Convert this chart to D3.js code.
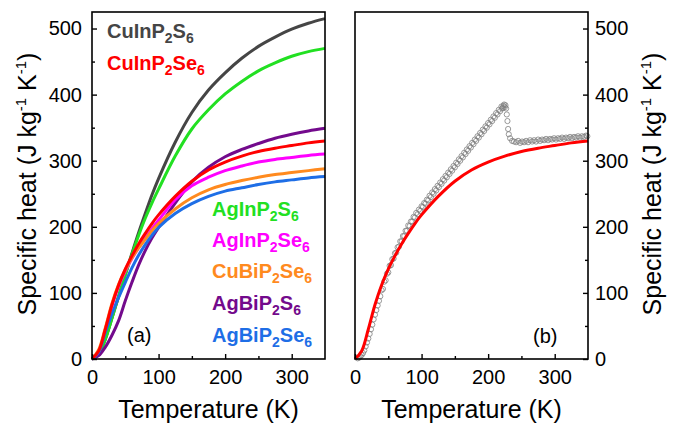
<!DOCTYPE html>
<html><head><meta charset="utf-8">
<script src="https://cdn.jsdelivr.net/npm/d3@7"></script>
<style>body{margin:0;background:#fff}svg{display:block}</style>
</head><body>
<svg id="chart" width="684" height="429"></svg>
<script>
// ---------- data ----------
const temps = [0,10,20,30,40,50,60,70,80,90,100,125,150,175,200,225,250,275,300,325,350];
const seriesNames = ["CuInP2S6","CuInP2Se6","AgInP2S6","AgInP2Se6","CuBiP2Se6","AgBiP2S6","AgBiP2Se6"];
const seriesColors = ["#454545","#ff0000","#22e022","#ff00ff","#ff8a1e","#730a8c","#1e6ee6"];
const cuInP2S6  = [0,7,30,62,95,128,160,191,220,248,273,328,373,407,433,455,473,487,499,508,515];
const cuInP2Se6 = [0,12,45,82,112,136,156,174,190,205,218,246,269,286,298,307,314,319,323,327,330];
const agInP2S6  = [0,7,30,62,95,127,158,187,213,236,257,307,348,377,401,420,436,448,458,465,470];
const agInP2Se6 = [0,11,44,80,110,133,152,168,183,197,210,241,262,275,285,292,298,302,305,308,310];
const cuBiP2Se6 = [0,14,47,84,113,135,153,168,181,194,205,227,244,256,264,270,275,279,282,285,288];
const agBiP2S6  = [0,5,18,36,58,88,116,142,164,183,199,236,268,290,306,317,326,334,340,345,349];
const agBiP2Se6 = [0,10,40,68,93,116,138,157,173,187,199,220,235,246,254,259,264,268,271,274,276];
const seriesValues = [cuInP2S6,cuInP2Se6,agInP2S6,agInP2Se6,cuBiP2Se6,agBiP2S6,agBiP2Se6];
// drawing order (back to front)
const drawOrder = [0,2,5,3,4,6,1];

// measured data, panel (b)
const measT = [4,6,8,10,12,14,16,18,20,22,24,26,28,30,32,34,36,38,
  40,42,44,46,48,50,52,54,56,58,60,62,64,66,68,70,72,74,76,78,80,82,84,86,88,90,92,94,96,98,
  100,102,104,106,108,110,112,114,116,118,120,122,124,126,128,130,132,134,136,138,140,142,144,146,148,
  150,152,154,156,158,160,162,164,166,168,170,172,174,176,178,180,182,184,186,188,190,192,194,196,198,
  200,202,204,206,208,210,212,214,216,218,220,221,222,223,224,225,226,227,228,229,230,231,233,236,239,242,
  245,248,251,254,257,260,263,266,269,272,275,278,281,284,287,290,293,296,299,302,305,308,311,314,317,320,
  323,326,329,332,335,338,341,344,347,349];
const measC = [1,2,4,6,9,13,19,25,31,38,45,52,60,67,74,81,88,95,
  104,106,117,119,129,131,141,142,151,152,160,161,169,170,178,178,186,186,194,194,202,201,208,208,215,214,221,219,226,224,
  231,230,236,235,241,240,247,245,252,250,257,255,262,260,267,265,272,270,277,275,282,280,287,285,292,
  290,297,295,302,300,307,305,312,310,317,315,322,320,327,325,332,330,337,335,342,340,347,345,352,350,
  357,355,362,360,367,365,372,370,377,375,382,379,380,383,385,381,384,379,370,360,348,340,334,330,329,328,
  330,327,329,328,330,328,331,329,331,329,332,330,332,331,333,331,333,332,334,332,334,333,335,333,335,334,
  336,334,336,335,337,335,337,336,338,337];

const yTicks = [0,100,200,300,400,500];
const yMinor = [50,150,250,350,450];
const xTicks = [0,100,200,300];
const xMinor = [50,150,250];

// ---------- drawing ----------
const svg = d3.select("#chart");
const FONT = "'Liberation Sans', Arial, sans-serif";
svg.attr("font-family", FONT);

const yScale = d3.scaleLinear().domain([0,525]).range([359,12]);
const xA = d3.scaleLinear().domain([0,350]).range([92,325]);
const xB = d3.scaleLinear().domain([0,350]).range([355,588]);

function frame(x) {
  svg.append("rect").attr("x", x.range()[0]).attr("y", 12)
    .attr("width", x.range()[1]-x.range()[0]).attr("height", 347)
    .attr("fill","none").attr("stroke","#000").attr("stroke-width",1.6);
}

function xAxis(x) {
  const g = svg.append("g").attr("transform","translate(0,359)");
  g.call(d3.axisBottom(x).tickValues(xTicks).tickSize(-5).tickPadding(11).tickFormat(d3.format("d")));
  const gm = svg.append("g").attr("transform","translate(0,359)");
  gm.call(d3.axisBottom(x).tickValues(xMinor).tickSize(-3).tickFormat(""));
  [g,gm].forEach(a=>{a.select(".domain").remove(); a.selectAll("line").attr("stroke","#000").attr("stroke-width",1.4);});
  g.selectAll("text").attr("font-size",20).attr("font-family",FONT).attr("fill","#000");
}

function yAxis(xpos, right) {
  const ax = right ? d3.axisRight(yScale) : d3.axisLeft(yScale);
  const g = svg.append("g").attr("transform",`translate(${xpos},0)`);
  g.call(ax.tickValues(yTicks).tickSize(-5).tickPadding(right?7:10).tickFormat(d3.format("d")));
  const axm = right ? d3.axisRight(yScale) : d3.axisLeft(yScale);
  const gm = svg.append("g").attr("transform",`translate(${xpos},0)`);
  gm.call(axm.tickValues(yMinor).tickSize(-3).tickFormat(""));
  [g,gm].forEach(a=>{a.select(".domain").remove(); a.selectAll("line").attr("stroke","#000").attr("stroke-width",1.4);});
  g.selectAll("text").attr("font-size",20).attr("font-family",FONT).attr("fill","#000");
}

function yTitle(x) {
  const t = svg.append("text").attr("transform",`translate(${x},184) rotate(-90)`)
    .attr("text-anchor","middle").attr("font-size",25).attr("fill","#000");
  t.append("tspan").text("Specific heat (J kg");
  t.append("tspan").attr("font-size",15).attr("dy",-10).text("-1");
  t.append("tspan").attr("dy",10).text(" K");
  t.append("tspan").attr("font-size",15).attr("dy",-10).text("-1");
  t.append("tspan").attr("dy",10).text(")");
}

function xTitle(x) {
  svg.append("text").attr("x",(x.range()[0]+x.range()[1])/2).attr("y",418)
    .attr("text-anchor","middle").attr("font-size",25).attr("fill","#000").text("Temperature (K)");
}

const curve = d3.curveCatmullRom.alpha(0.5);
const lineA = d3.line().x((d,i)=>xA(temps[i])).y(d=>yScale(d)).curve(curve);
const lineB = d3.line().x((d,i)=>xB(temps[i])).y(d=>yScale(d)).curve(curve);

// panel (a)
drawOrder.forEach(k=>{
  svg.append("path").attr("d", lineA(seriesValues[k])).attr("fill","none")
    .attr("stroke", seriesColors[k]).attr("stroke-width",3);
});

// panel (b)
svg.append("g").selectAll("circle").data(measT).join("circle")
  .attr("cx",(d)=>xB(d)).attr("cy",(d,i)=>yScale(measC[i])).attr("r",2.6)
  .attr("fill","none").attr("stroke","#808080").attr("stroke-width",0.8);
svg.append("path").attr("d", lineB(cuInP2Se6)).attr("fill","none")
  .attr("stroke", seriesColors[1]).attr("stroke-width",3);

frame(xA); frame(xB);
xAxis(xA); xAxis(xB);
yAxis(92,false); yAxis(588,true);
yTitle(36); yTitle(661);
xTitle(xA); xTitle(xB);

// legend labels
const legendPos = [[107,38],[107,70],[212,216],[212,247],[212,278],[212,310],[212,342]];
seriesNames.forEach((name,k)=>{
  const t = svg.append("text").attr("x",legendPos[k][0]).attr("y",legendPos[k][1])
    .attr("font-size",20).attr("font-weight","bold").attr("fill",seriesColors[k]);
  const parts = name.match(/[0-9]+|[^0-9]+/g);
  let shifted = false;
  parts.forEach(p=>{
    if (/^[0-9]+$/.test(p)) { t.append("tspan").attr("font-size",14).attr("dy",5).text(p); shifted = true; }
    else { const s = t.append("tspan").text(p); if (shifted) { s.attr("dy",-5); shifted=false; } }
  });
});

svg.append("text").attr("x",127).attr("y",342).attr("font-size",20).attr("fill","#000").text("(a)");
svg.append("text").attr("x",533).attr("y",343).attr("font-size",20).attr("fill","#000").text("(b)");
</script>
</body></html>
